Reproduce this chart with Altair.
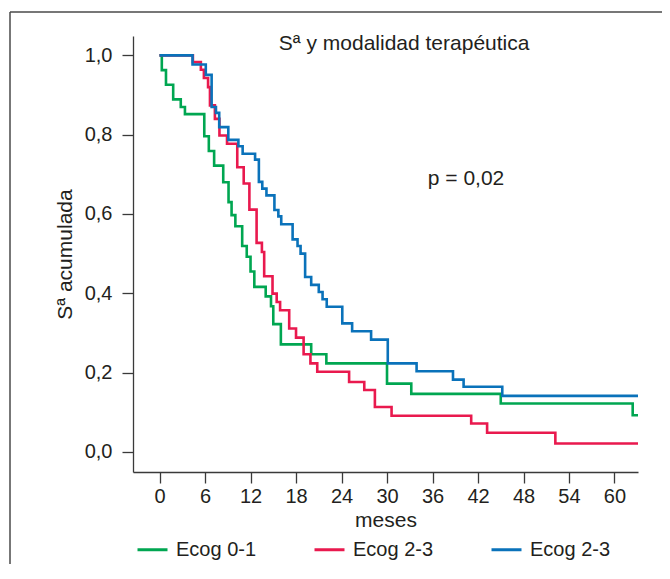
import altair as alt
import pandas as pd

# Kaplan-Meier step data (months, cumulative survival)
green_t = [0, 0.3, 0.85, 1.8, 2.8, 3.35, 5.9, 6.5, 7.2, 8.4, 9.1, 9.5, 10.0, 10.9, 11.5, 12.0, 12.5,
           14.0, 14.7, 15.0, 16.0, 20.0, 22.0, 30.0, 33.2, 45.0, 62.4, 63.1]
green_s = [1.0, 0.963, 0.926, 0.889, 0.870, 0.852, 0.796, 0.759, 0.722, 0.680, 0.630, 0.597, 0.569, 0.519,
           0.492, 0.455, 0.416, 0.392, 0.367, 0.322, 0.271, 0.246, 0.223, 0.172, 0.146, 0.122, 0.092, 0.092]

red_t = [0, 4.4, 5.45, 5.85, 6.4, 6.65, 7.3, 7.9, 8.9, 10.25, 11.1, 11.85, 12.8, 13.5, 13.8, 14.9, 15.45,
         15.9, 17.1, 18.0, 19.0, 19.9, 20.8, 25.0, 27.0, 28.4, 30.6, 41.1, 43.2, 52.2, 63.1]
red_s = [1.0, 0.983, 0.964, 0.943, 0.920, 0.874, 0.840, 0.798, 0.777, 0.718, 0.677, 0.611, 0.527, 0.504,
         0.443, 0.399, 0.378, 0.357, 0.311, 0.288, 0.246, 0.223, 0.202, 0.176, 0.156, 0.113, 0.091, 0.0715,
         0.048, 0.021, 0.021]

blue_t = [0, 4.35, 6.1, 6.87, 7.44, 7.87, 9.07, 10.4, 10.96, 12.6, 13.1, 13.55, 14.1, 15.15, 15.67, 16.05,
          17.55, 18.2, 18.6, 19.2, 20.0, 21.0, 21.5, 22.05, 24.1, 25.4, 27.9, 30.1, 33.9, 38.7, 40.1, 45.2, 63.1]
blue_s = [1.0, 0.977, 0.951, 0.870, 0.855, 0.819, 0.787, 0.771, 0.752, 0.737, 0.681, 0.664, 0.647, 0.610,
          0.594, 0.574, 0.536, 0.519, 0.500, 0.441, 0.421, 0.403, 0.385, 0.366, 0.324, 0.304, 0.283, 0.223,
          0.203, 0.182, 0.164, 0.141, 0.141]

# internal keys (distinct) and the labels shown in the legend
groups = ["g1", "g2", "g3"]
group_labels = ["Ecog 0-1", "Ecog 2-3", "Ecog 2-3"]
colors = ["#00A651", "#E9194E", "#0A72BA"]

x_ticks = [0, 6, 12, 18, 24, 30, 36, 42, 48, 54, 60]
y_ticks = [0.0, 0.2, 0.4, 0.6, 0.8, 1.0]

title_text = ["Sª y modalidad terapéutica"]
title_pos = [32.26, 1.0136]
p_text = ["p = 0,02"]
p_pos = [35.38, 0.673]

FONT = "Liberation Sans"
TXT = "#231f20"

rows = []
for g, ts, ss in zip(groups, [green_t, red_t, blue_t], [green_s, red_s, blue_s]):
    for t, s in zip(ts, ss):
        rows.append({"t": t, "s": s, "grupo": g})
df = pd.DataFrame(rows)

label_map = "{" + ", ".join(f"'{g}': '{l}'" for g, l in zip(groups, group_labels)) + "}"
legend_label_expr = f"{label_map}[datum.label]"

xscale = alt.Scale(domain=[-3.5, 63.1], nice=False, zero=False)
yscale = alt.Scale(domain=[-0.051, 1.049], nice=False, zero=False)

lines = alt.Chart(df).mark_line(interpolate="step-after", strokeWidth=2.6).encode(
    x=alt.X("t:Q", scale=xscale,
            axis=alt.Axis(values=x_ticks, title="meses", grid=False, labelPadding=3,
                          titlePadding=3)),
    y=alt.Y("s:Q", scale=yscale,
            axis=alt.Axis(values=y_ticks, title="Sª acumulada", grid=False, labelPadding=10,
                          titlePadding=9,
                          labelExpr="replace(format(datum.value, '.1f'), '.', ',')")),
    color=alt.Color("grupo:N", scale=alt.Scale(domain=groups, range=colors),
                    legend=alt.Legend(title=None, orient="none", direction="horizontal",
                                      legendX=3, legendY=497, symbolType="stroke",
                                      symbolSize=900, symbolStrokeWidth=3, labelOffset=7,
                                      columnPadding=51, labelFontSize=20, labelFont=FONT,
                                      labelColor=TXT, padding=0, labelExpr=legend_label_expr)),
    detail="grupo:N",
)

title_df = pd.DataFrame({"x": [title_pos[0]], "y": [title_pos[1]], "label": title_text})
title = alt.Chart(title_df).mark_text(font=FONT, fontSize=21, color=TXT, align="center",
                                      baseline="alphabetic").encode(
    x=alt.X("x:Q", scale=xscale), y=alt.Y("y:Q", scale=yscale), text="label:N")

p_df = pd.DataFrame({"x": [p_pos[0]], "y": [p_pos[1]], "label": p_text})
ptxt = alt.Chart(p_df).mark_text(font=FONT, fontSize=21, color=TXT, align="left",
                                 baseline="alphabetic").encode(
    x=alt.X("x:Q", scale=xscale), y=alt.Y("y:Q", scale=yscale), text="label:N")

one = pd.DataFrame({"a": [0]})
frame_left = alt.Chart(one).mark_rule(color="#4a4a4a", strokeWidth=1.5).encode(
    x=alt.value(-123), y=alt.value(-24), y2=alt.value(620))
frame_top = alt.Chart(one).mark_rule(color="#4a4a4a", strokeWidth=1.5).encode(
    x=alt.value(-123), x2=alt.value(560), y=alt.value(-24))

chart = alt.layer(frame_left, frame_top, lines, title, ptxt).properties(
    width=505, height=436,
    padding={"left": 125, "top": 28, "right": 24, "bottom": 92},
    autosize=alt.AutoSizeParams(type="none"),
).configure_view(strokeWidth=0).configure_axis(
    labelFont=FONT, titleFont=FONT, labelFontSize=20, titleFontSize=21,
    labelColor=TXT, titleColor=TXT, titleFontWeight="normal",
    domainColor="#3a3a3a", tickColor="#3a3a3a", domainWidth=1.3, tickWidth=1.3, tickSize=11,
)

chart.save("out.html", embed_options={"renderer": "svg", "actions": False})
